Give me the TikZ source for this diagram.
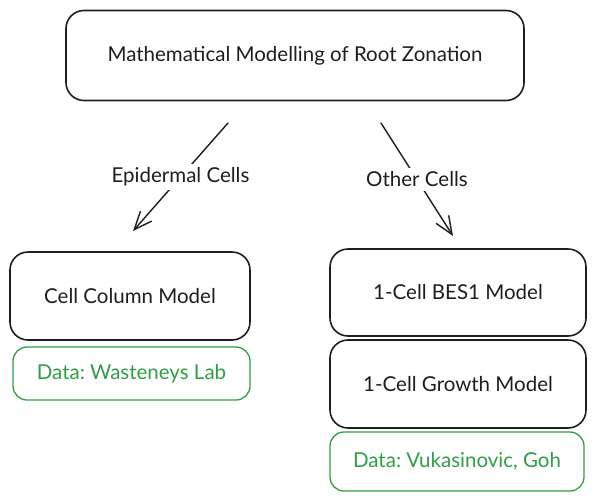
\documentclass[tikz,border=0pt]{standalone}
\usepackage{fontspec}
\setmainfont{Lato}
\usetikzlibrary{arrows.meta}
\definecolor{exgreen}{HTML}{2F9E44}
\definecolor{exblack}{HTML}{1E1E1E}
\frenchspacing
\tikzset{
  txt/.style={font=\fontsize{20.5}{24}\selectfont\frenchspacing},
  box/.style={draw=exblack, line width=1.6pt, rounded corners=18pt, align=center,
    txt, text=exblack, inner sep=0pt},
  databox/.style={draw=exgreen, line width=1.3pt, rounded corners=14pt, align=center,
    txt, text=exgreen, inner sep=0pt},
  conn/.style={draw=exblack, line width=1.4pt, line cap=round,
    -{Straight Barb[length=18pt,width=15pt,line width=1.4pt]}},
  lbl/.style={fill=white, txt, text=exblack, inner sep=4pt}
}
\begin{document}
\begin{tikzpicture}[x=1pt,y=-1pt]
\useasboundingbox (0,0) rectangle (596,501);
\node[box, minimum width=458pt, minimum height=90pt] (top) at (295,55.5) {Mathematical Modelling of Root Zonation};
\node[box, minimum width=240pt, minimum height=88pt] (ccm) at (130,296) {Cell Column Model};
\node[databox, minimum width=237pt, minimum height=53pt] (wl) at (131.5,373.5) {Data: Wasteneys Lab};
\node[box, minimum width=256pt, minimum height=87pt] (bes) at (458,292.5) {1-Cell BES1 Model};
\node[box, minimum width=256pt, minimum height=88pt] (grow) at (458,384) {1-Cell Growth Model};
\node[databox, minimum width=254pt, minimum height=59pt] (vg) at (457,461.5) {Data: Vukasinovic, Goh};
\coordinate (ls) at (228,123);
\coordinate (le) at (133,231);
\coordinate (rs) at (381,123);
\coordinate (re) at (453,236);
\draw[conn] (ls) -- node[lbl] {Epidermal Cells} (le);
\draw[conn] (rs) -- node[lbl] {Other Cells} (re);
\end{tikzpicture}
\end{document}
